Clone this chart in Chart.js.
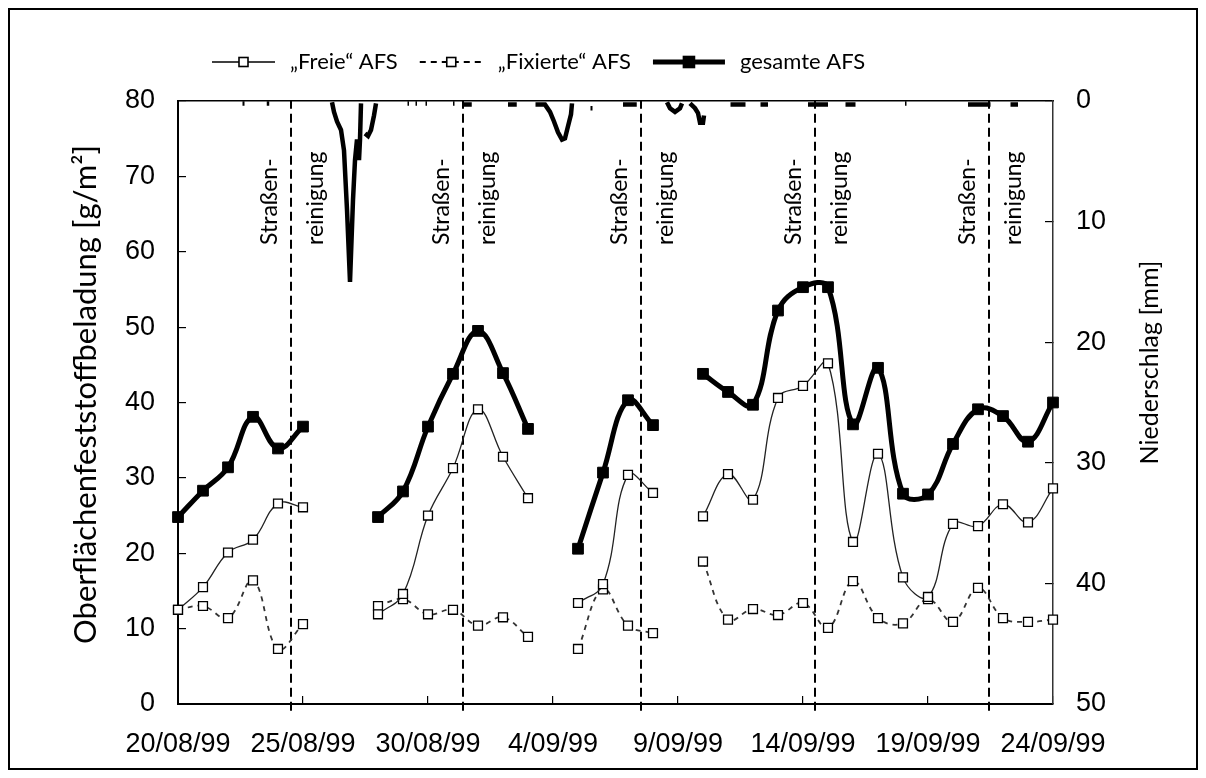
<!DOCTYPE html>
<html>
<head>
<meta charset="utf-8">
<script src="https://cdn.jsdelivr.net/npm/chart.js@4.4.1/dist/chart.umd.min.js"></script>
<style>
html, body { margin: 0; padding: 0; background: #fff; }
#wrap { position: relative; width: 1206px; height: 778px; }
#frame { position: absolute; left: 8px; top: 8px; width: 1186px; height: 758px; border: 2px solid #000; pointer-events: none; }
canvas { position: absolute; left: 0; top: 0; }
</style>
</head>
<body>
<div id="wrap"><canvas id="c" width="1206" height="778"></canvas><div id="frame"></div></div>
<script>
// days counted from 20/08/99
const dateLabels = ['20/08/99', '25/08/99', '30/08/99', '4/09/99', '9/09/99', '14/09/99', '19/09/99', '24/09/99'];
const days = [0,1,2,3,4,5,6,7,8,9,10,11,12,13,14,15,16,17,18,19,20,21,22,23,24,25,26,27,28,29,30,31,32,33,34,35];

const freie = [12.5, 15.5, 20.1, 21.8, 26.6, 26.1, null, null, 11.9, 14.6, 25.0, 31.3, 39.1, 32.8, 27.3, null,
  13.4, 15.9, 30.4, 28.0, null, 24.9, 30.5, 27.1, 40.6, 42.2, 45.2, 21.5, 33.2, 16.8, 14.2, 23.9, 23.6, 26.5, 24.1, 28.6];
const fixierte = [12.5, 13.0, 11.4, 16.4, 7.3, 10.6, null, null, 13.0, 13.9, 11.9, 12.5, 10.4, 11.5, 8.9, null,
  7.3, 15.2, 10.4, 9.4, null, 18.9, 11.2, 12.6, 11.8, 13.4, 10.1, 16.3, 11.4, 10.7, 13.9, 10.9, 15.4, 11.4, 10.9, 11.2];
const gesamte = [24.8, 28.3, 31.4, 38.1, 33.9, 36.8, null, null, 24.8, 28.2, 36.8, 43.8, 49.5, 43.9, 36.5, null,
  20.6, 30.7, 40.3, 37.0, null, 43.8, 41.4, 39.7, 52.2, 55.3, 55.3, 37.1, 44.6, 27.9, 27.8, 34.5, 39.1, 38.2, 34.8, 40.0];

// Niederschlag [mm], null = break in the trace
const rainDays = [2.58, 2.66, 2.7, 3.55, 3.65, 3.7,
  6.16, 6.24, 6.36, 6.52, 6.64, 6.76, 6.88, 7.0, 7.08, 7.16, 7.24, 7.28, 7.32, 7.4,
  7.48, 7.6, 7.72, 7.84, 7.92, 8.0,
  9.18, 9.24, 9.3, 9.5, 9.56, 9.6, 9.9, 9.96, 10.0, 11.0, 11.06, 11.1, 11.4, 11.75, 11.8,
  13.2, 13.55, 13.6, 14.3, 14.68, 14.88, 15.04, 15.2, 15.36, 15.48, 15.6, 15.72, 15.76, 15.8,
  16.5, 16.58, 16.6, 17.8, 18.35, 18.4,
  19.56, 19.68, 19.88, 20.08, 20.16, 20.2, 20.48, 20.68, 20.8, 20.88, 21.0, 21.04, 21.1,
  22.1, 22.7, 22.75, 23.3, 23.6, 23.65, 25.2, 26.0, 26.05, 26.7, 27.1, 27.15, 29.08, 29.14, 29.2,
  31.6, 32.5, 32.55, 33.3, 33.6];
const rainMm = [0.2, 0.2, null, 0.2, 0.2, null,
  0.1, 0.9, 1.7, 2.4, 4.1, 9.0, 15.0, 8.2, 4.9, 3.2, 4.9, 3.2, 0.2, null,
  2.7, 2.9, 2.4, 1.2, 0.2, null,
  0.2, 0.2, null, 0.2, 0.2, null, 0.2, 0.2, null, 0.2, 0.2, null, 0.3, 0.3, null,
  0.3, 0.3, null, 0.3, 0.3, 0.9, 1.7, 2.6, 3.2, 3.1, 2.1, 1.1, 0.2, null,
  0.6, 0.6, null, 0.3, 0.3, null,
  0.1, 0.6, 0.9, 0.6, 0.2, null, 0.2, 0.6, 1.0, 1.8, 1.8, 1.2, null,
  0.3, 0.3, null, 0.3, 0.3, null, 0.3, 0.3, null, 0.3, 0.3, null, 0.2, 0.2, null,
  0.3, 0.3, null, 0.3, 0.3];

// Straßenreinigung
const cleaningDays = [4.52, 11.4, 18.52, 25.48, 32.44];

const legendNames = ['\u201EFreie\u201C AFS', '\u201EFixierte\u201C AFS', 'gesamte AFS'];

function xy(xs, ys) { return xs.map((x, i) => ({ x: x, y: ys[i] })); }

const cleaningPts = [];
cleaningDays.forEach(d => { cleaningPts.push({ x: d, y: -0.9 }, { x: d, y: 80 }, { x: d, y: null }); });

const tickFont = { family: 'Liberation Sans, Arial, sans-serif', size: 27 };
const textFamily = 'Lato, "Open Sans", sans-serif';

// legend, axis titles and the rotated labels next to the dashed lines
const annotate = {
  id: 'annotate',
  afterDraw(chart) {
    const ctx = chart.ctx;
    const xs = chart.scales.x, ys = chart.scales.y;
    ctx.save();
    ctx.fillStyle = '#000';

    // legend
    ctx.font = '22px ' + textFamily;
    ctx.textBaseline = 'middle';
    ctx.textAlign = 'left';
    let lx = 212;
    const ly = 62;
    for (let i = 0; i < 3; i++) {
      const ds = chart.data.datasets[i];
      const w = i === 2 ? 72 : 63;
      ctx.save();
      ctx.strokeStyle = '#000';
      ctx.lineWidth = i === 2 ? 5 : (i === 1 ? 1.8 : 1.6);
      ctx.setLineDash(i === 1 ? [6, 5] : []);
      ctx.beginPath(); ctx.moveTo(lx, ly); ctx.lineTo(lx + w, ly); ctx.stroke();
      ctx.setLineDash([]);
      const s = i === 2 ? 11 : 9;
      ctx.fillStyle = i === 2 ? '#000' : '#fff';
      ctx.fillRect(lx + w / 2 - s / 2, ly - s / 2, s, s);
      ctx.lineWidth = 1.6;
      ctx.strokeRect(lx + w / 2 - s / 2, ly - s / 2, s, s);
      ctx.restore();
      ctx.fillText(ds.label, lx + w + 15, ly);
      lx += w + 15 + ctx.measureText(ds.label).width + 22;
    }

    // axis titles
    ctx.textAlign = 'center';
    ctx.font = '31px ' + textFamily;
    ctx.save();
    ctx.translate(86, (ys.top + ys.bottom) / 2 - 8);
    ctx.rotate(-Math.PI / 2);
    ctx.fillText('Oberfl\u00E4chenfeststoffbeladung [g/m\u00B2]', 0, 0);
    ctx.restore();
    ctx.font = '25px ' + textFamily;
    ctx.save();
    ctx.translate(1150, (ys.top + ys.bottom) / 2 - 40);
    ctx.rotate(-Math.PI / 2);
    ctx.fillText('Niederschlag [mm]', 0, 0);
    ctx.restore();

    // Straßen- / reinigung
    ctx.font = '23px ' + textFamily;
    ctx.textAlign = 'left';
    cleaningDays.forEach(d => {
      const px = xs.getPixelForValue(d);
      ctx.save();
      ctx.translate(px - 21, 245);
      ctx.rotate(-Math.PI / 2);
      ctx.fillText('Stra\u00DFen-', 0, 0);
      ctx.restore();
      ctx.save();
      ctx.translate(px + 25, 245);
      ctx.rotate(-Math.PI / 2);
      ctx.fillText('reinigung', 0, 0);
      ctx.restore();
    });
    ctx.restore();
  }
};

new Chart(document.getElementById('c').getContext('2d'), {
  type: 'line',
  data: {
    datasets: [
      {
        label: legendNames[0], data: xy(days, freie), yAxisID: 'y',
        borderColor: '#222', borderWidth: 1.3, tension: 0.4, spanGaps: false, clip: false,
        pointStyle: 'rect', pointRadius: 6.3, pointBackgroundColor: '#fff', pointBorderColor: '#000', pointBorderWidth: 1.3
      },
      {
        label: legendNames[1], data: xy(days, fixierte), yAxisID: 'y',
        borderColor: '#333', borderWidth: 1.8, borderDash: [5, 5], tension: 0.4, spanGaps: false, clip: false,
        pointStyle: 'rect', pointRadius: 6.3, pointBackgroundColor: '#fff', pointBorderColor: '#000', pointBorderWidth: 1.3
      },
      {
        label: legendNames[2], data: xy(days, gesamte), yAxisID: 'y',
        borderColor: '#000', borderWidth: 5, tension: 0.4, spanGaps: false, clip: false,
        pointStyle: 'rect', pointRadius: 7.6, pointBackgroundColor: '#000', pointBorderColor: '#000', pointBorderWidth: 1
      },
      {
        label: 'Niederschlag', data: xy(rainDays, rainMm), yAxisID: 'y2',
        borderColor: '#000', borderWidth: 4.5, tension: 0, spanGaps: false, pointRadius: 0, clip: false
      },
      {
        label: 'Straßenreinigung', data: cleaningPts, yAxisID: 'y',
        borderColor: '#000', borderWidth: 2, borderDash: [9, 5], spanGaps: false, pointRadius: 0, clip: false
      }
    ]
  },
  options: {
    responsive: false,
    animation: false,
    layout: { padding: { top: 101, left: 0, right: 0, bottom: 0 } },
    plugins: { legend: { display: false }, tooltip: { enabled: false } },
    scales: {
      x: {
        type: 'linear', position: 'bottom', min: 0, max: 35,
        ticks: {
          stepSize: 5, autoSkip: false, maxRotation: 0, color: '#000', font: tickFont, padding: 32,
          callback: v => dateLabels[v / 5]
        },
        grid: { drawOnChartArea: false, tickLength: -8, color: '#000', lineWidth: 1.2 },
        border: { color: '#000', width: 2 },
        afterFit: s => { s.height = 74; }
      },
      xTop: {
        type: 'linear', position: 'top', min: 0, max: 35,
        ticks: { display: false }, grid: { display: false },
        border: { display: true, color: '#000', width: 1.5 },
        afterFit: s => { s.height = 0; }
      },
      y: {
        position: 'left', min: 0, max: 80,
        ticks: { stepSize: 10, color: '#000', font: tickFont, padding: 31 },
        grid: { drawOnChartArea: false, tickLength: -8, color: '#000', lineWidth: 1.2 },
        border: { color: '#000', width: 2 },
        afterFit: s => { s.width = 178; }
      },
      y2: {
        position: 'right', min: 0, max: 50, reverse: true,
        ticks: { stepSize: 10, color: '#000', font: tickFont, padding: 31 },
        grid: { drawOnChartArea: false, tickLength: -8, color: '#000', lineWidth: 1.2 },
        border: { color: '#333', width: 1.5 },
        afterFit: s => { s.width = 153; }
      }
    }
  },
  plugins: [annotate]
});
</script>
</body>
</html>
